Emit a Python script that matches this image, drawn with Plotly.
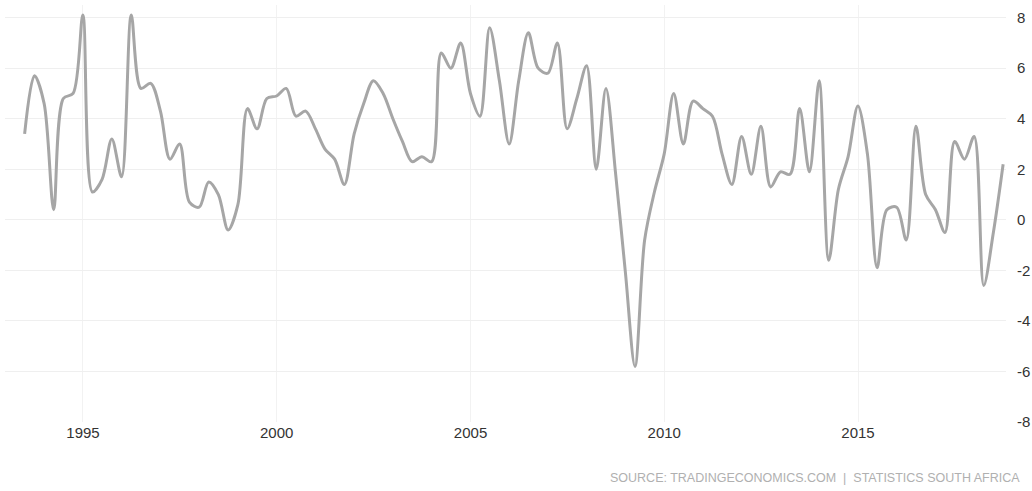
import plotly.graph_objects as go

# Quarterly GDP growth (annualized, %), 1993 Q2 .. 2018 Q3
start_year = 1993
start_quarter = 2
growth = [
    3.4, 5.7, 4.6,                 # 1993 Q2-Q4
    0.4, 4.8, 5.0, 8.1,            # 1994
    1.1, 1.6, 3.2, 1.7,            # 1995
    8.1, 5.2, 5.4, 4.3,            # 1996
    2.4, 3.0, 0.7, 0.5,            # 1997
    1.5, 1.0, -0.4, 0.6,           # 1998
    4.4, 3.6, 4.8, 4.9,            # 1999
    5.2, 4.1, 4.3, 3.6,            # 2000
    2.8, 2.4, 1.4, 3.4,            # 2001
    4.6, 5.5, 5.0, 4.0,            # 2002
    3.1, 2.3, 2.5, 2.3,            # 2003
    6.6, 6.0, 7.0, 5.0,            # 2004
    4.1, 7.6, 5.5, 3.0,            # 2005
    5.5, 7.4, 6.0, 5.8,            # 2006
    7.0, 3.6, 4.8, 6.1,            # 2007
    2.0, 5.2, 1.8, -2.1,           # 2008
    -5.8, -0.8, 1.1, 2.6,          # 2009
    5.0, 3.0, 4.7, 4.4,            # 2010
    4.1, 2.6, 1.4, 3.3,            # 2011
    1.8, 3.7, 1.3, 1.9,            # 2012
    1.8, 4.4, 1.9, 5.5,            # 2013
    -1.6, 1.2, 2.5, 4.5,           # 2014
    2.6, -1.9, 0.4, 0.5,           # 2015
    -0.8, 3.7, 1.0, 0.4,           # 2016
    -0.5, 3.1, 2.4, 3.3,           # 2017
    -2.6, -0.5, 2.2,               # 2018 Q1-Q3
]

quarter_end = {1: "03-31", 2: "06-30", 3: "09-30", 4: "12-31"}
dates = []
y, q = start_year, start_quarter
for _ in growth:
    dates.append(f"{y}-{quarter_end[q]}")
    q += 1
    if q > 4:
        q = 1
        y += 1

x_tick_years = [1995, 2000, 2005, 2010, 2015]
x_tick_vals = [f"{yr}-01-01" for yr in x_tick_years]
x_tick_text = [str(yr) for yr in x_tick_years]

y_tick_vals = [-8, -6, -4, -2, 0, 2, 4, 6, 8]
y_tick_text = ["-8", "-6", "-4", "-2", "0", "2", "4", "6", "8"]

source_text = "SOURCE: TRADINGECONOMICS.COM  |  STATISTICS SOUTH AFRICA"

fig = go.Figure()
fig.add_trace(go.Scatter(
    x=dates, y=growth, mode="lines",
    line=dict(color="#a6a6a6", width=3, shape="spline", smoothing=0.9),
    hoverinfo="x+y",
))

tick_font = dict(family="Liberation Sans, Arial, sans-serif", size=15, color="#333333")

fig.update_layout(
    width=1032, height=491,
    margin=dict(l=5, r=26, t=5, b=69),
    paper_bgcolor="white", plot_bgcolor="white",
    showlegend=False,
    xaxis=dict(
        type="date",
        range=["1992-12-27", "2018-10-27"],
        tickvals=x_tick_vals, ticktext=x_tick_text,
        showgrid=True, gridcolor="#f2f2f2", gridwidth=1,
        zeroline=False, showline=False, ticks="",
        tickfont=tick_font, automargin=False,
    ),
    yaxis=dict(
        side="right",
        range=[-8, 8.5],
        tickvals=y_tick_vals, ticktext=y_tick_text,
        showgrid=True, gridcolor="#efefef", gridwidth=1,
        zeroline=False, showline=False, ticks="",
        tickfont=tick_font, automargin=False,
        ticklabelstandoff=10,
    ),
    annotations=[dict(
        text=source_text, xref="paper", yref="paper",
        x=1.016, y=-0.134, xanchor="right", yanchor="middle",
        showarrow=False,
        font=dict(family="Liberation Sans, Arial, sans-serif", size=12.5, color="#b0b0b0"),
    )],
)

fig.write_html("out.html")
